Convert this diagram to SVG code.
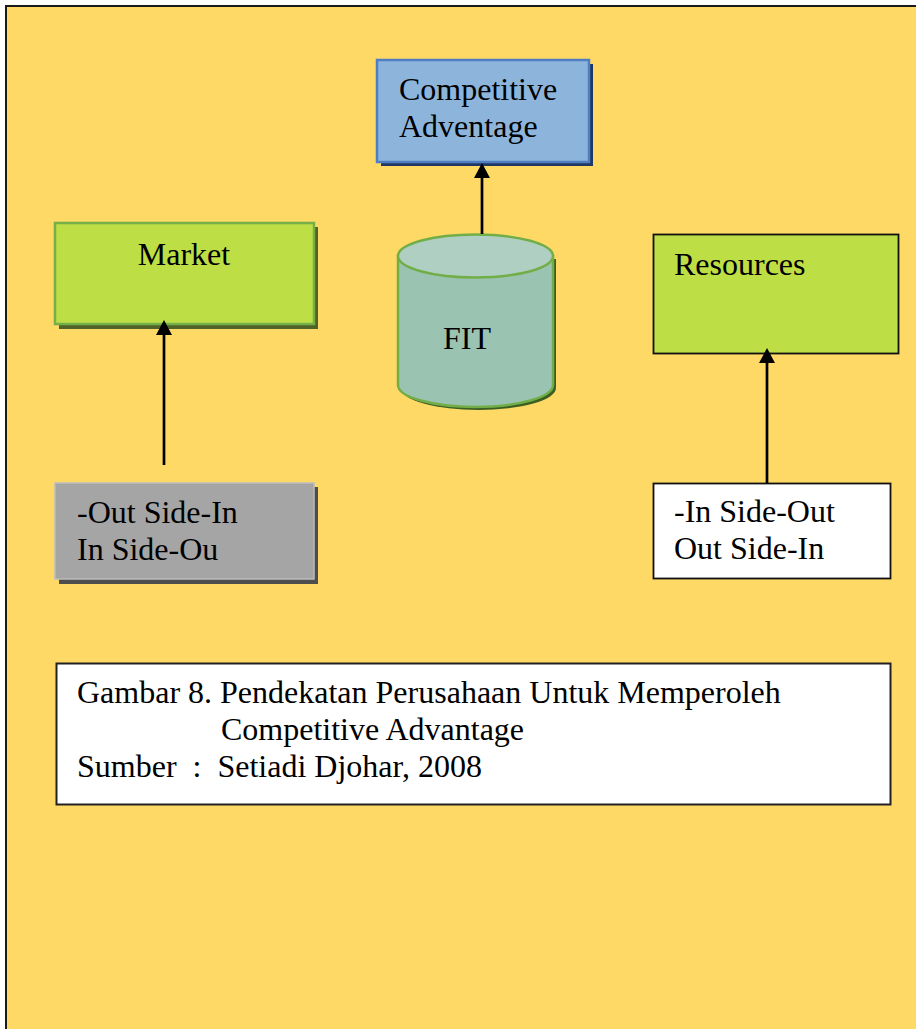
<svg xmlns="http://www.w3.org/2000/svg" width="916" height="1029" viewBox="0 0 916 1029">
  <defs>
    <!-- arrowhead drawn along +x so orient="auto" points it along the line; the line ends at its base -->
    <marker id="arrow" markerUnits="userSpaceOnUse" markerWidth="15" markerHeight="16" refX="0" refY="8" orient="auto" viewBox="0 0 15 16">
      <path d="M0,0 L15,8 L0,16 Z" fill="#000"/>
    </marker>
  </defs>
  <style>
    text { font-family: "Liberation Serif", "Times New Roman", serif; font-size: 32px; fill: #000; }
    .conn { stroke: #000; stroke-width: 2.7; fill: none; }
    .green { fill: #BEDE45; }
  </style>

  <!-- page background -->
  <rect x="6" y="6" width="930" height="1040" fill="#FFD966" stroke="#1a1a1a" stroke-width="2"/>

  <!-- Competitive Advantage -->
  <g id="competitive-advantage">
    <rect x="381" y="64" width="212" height="102" fill="#203864"/>
    <rect x="377" y="60" width="212" height="102" fill="#8DB5DC" stroke="#4F7FC2" stroke-width="2.5"/>
    <text x="399" y="100">Competitive</text>
    <text x="399" y="137">Adventage</text>
  </g>

  <!-- FIT cylinder -->
  <g id="fit">
    <path d="M401,259 V388 A77.5,22 0 0 0 556,388 V259 Z" fill="#3B5E22"/>
    <path d="M398,256 V385 A77.5,22 0 0 0 553,385 V256 Z" fill="#9BC3B1" stroke="#72AE48" stroke-width="2.5"/>
    <ellipse cx="475.5" cy="256" rx="77.5" ry="21.5" fill="#AFCFC2" stroke="#72AE48" stroke-width="2.5"/>
    <text x="443" y="349">FIT</text>
  </g>

  <!-- Market -->
  <g id="market">
    <rect x="59" y="227" width="259" height="102" fill="#4F6228"/>
    <rect x="55" y="223" width="259" height="101" class="green" stroke="#74AF48" stroke-width="2.5"/>
    <text x="184" y="265" text-anchor="middle">Market</text>
  </g>

  <!-- Resources -->
  <g id="resources">
    <rect x="653.5" y="234.5" width="245" height="119" class="green" stroke="#111" stroke-width="1.8"/>
    <text x="674" y="275">Resources</text>
  </g>

  <!-- Out Side-In / In Side-Out (market side) -->
  <g id="outside-in">
    <rect x="59" y="487" width="259" height="97" fill="#4D4D4D"/>
    <rect x="55" y="483" width="259" height="96" fill="#A5A5A5" stroke="#BDBDBD" stroke-width="1.5"/>
    <text x="77" y="523">-Out Side-In</text>
    <text x="77" y="560">In Side-Ou</text>
  </g>

  <!-- In Side-Out / Out Side-In (resource side) -->
  <g id="inside-out">
    <rect x="653.5" y="483.5" width="237" height="95" fill="#FFFFFF" stroke="#111" stroke-width="1.8"/>
    <text x="674" y="522">-In Side-Out</text>
    <text x="674" y="559">Out Side-In</text>
  </g>

  <!-- Caption -->
  <g id="caption">
    <rect x="56.5" y="663.5" width="834" height="141" fill="#FFFFFF" stroke="#222" stroke-width="2"/>
    <text x="77" y="703">Gambar 8. Pendekatan Perusahaan Untuk Memperoleh</text>
    <text x="221" y="740">Competitive Advantage</text>
    <text x="77" y="777" xml:space="preserve">Sumber  :  Setiadi Djohar, 2008</text>
  </g>

  <!-- Connectors -->
  <g id="connectors">
    <line class="conn" x1="164" y1="465" x2="164" y2="335" marker-end="url(#arrow)"/>
    <line class="conn" x1="482" y1="234" x2="482" y2="178" marker-end="url(#arrow)"/>
    <line class="conn" x1="767" y1="483" x2="767" y2="363" marker-end="url(#arrow)"/>
  </g>
</svg>
